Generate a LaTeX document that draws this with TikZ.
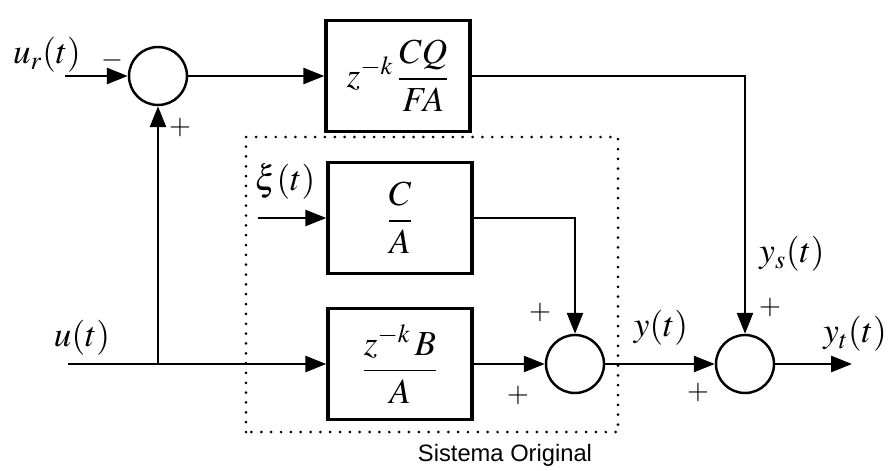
\documentclass[tikz,border=0pt]{standalone}
\usepackage{amsmath}
\usepackage{mathptmx}
\usepackage[no-math]{fontspec}
\newfontfamily\arialfont{Liberation Sans}
\usetikzlibrary{arrows.meta, calc}

\begin{document}
\begin{tikzpicture}[>={Triangle[length=4.2mm, width=3.2mm]},
  bloco/.style={draw, line width=1.9pt, minimum width=2.88cm, minimum height=2.22cm, font=\fontsize{20}{24}\selectfont},
  soma/.style={draw, circle, line width=1.4pt, minimum size=1.16cm, inner sep=0pt},
  liga/.style={line width=1.5pt},
  sinal/.style={font=\fontsize{16}{18}\selectfont},
  rotulo/.style={font=\fontsize{20}{24}\selectfont}]
  \useasboundingbox (0,0) rectangle (17.84,9.4);

  \node[soma] (sumr) at (3.16, 7.88) {};
  \node[bloco] (filtro) at (7.96, 7.88) {$z^{-k}\,\dfrac{CQ}{FA}$};
  \node[bloco] (ruido) at (8.0, 5.04) {$\dfrac{C}{A}$};
  \node[bloco] (planta) at (8.0, 2.12) {$\dfrac{z^{-k}\,B}{A}$};
  \node[soma] (sumy) at (11.5, 2.12) {};
  \node[soma] (sumt) at (14.9, 2.12) {};

  \coordinate (ur) at (1.3, 7.88);
  \coordinate (u) at (1.36, 2.12);
  \coordinate (ramo) at (3.16, 2.12);
  \coordinate (xi) at (5.16, 5.04);
  \coordinate (yt) at (17.04, 2.12);

  \draw[liga, ->] (ur) -- (sumr);
  \draw[liga, ->] (sumr) -- (filtro);
  \draw[liga, ->] (filtro.east) -| (sumt);
  \draw[liga, ->] (xi) -- (ruido);
  \draw[liga, ->] (ruido.east) -| (sumy);
  \draw[liga] (u) -- (ramo);
  \draw[liga, ->] (ramo) -- (planta);
  \draw[liga, ->] (ramo) -- (sumr);
  \draw[liga, ->] (planta) -- (sumy);
  \draw[liga, ->] (sumy) -- (sumt);
  \draw[liga, ->] (sumt) -- (yt);

  % sistema original
  \draw[line width=1.7pt, line cap=round, dash pattern=on 0pt off 5.6pt] (4.92, 0.76) rectangle (12.36, 6.66);
  \node[font=\arialfont\fontsize{13.5}{16}\selectfont] (sistema) at (10.1, 0.3) {Sistema Original};

  \node[rotulo] (lur) at (0.94, 8.3) {$u_r(t)$};
  \node[rotulo] (lu) at (1.64, 2.64) {$u(t)$};
  \node[rotulo] (lxi) at (5.7, 5.76) {$\xi(t)$};
  \node[rotulo] (ly) at (13.22, 2.84) {$y(t)$};
  \node[rotulo] (lys) at (15.84, 4.32) {$y_s(t)$};
  \node[rotulo] (lyt) at (17.1, 2.72) {$y_t(t)$};

  \node[sinal] (s1) at (2.24, 8.2) {$-$};
  \node[sinal] (s2) at (3.6, 6.86) {$+$};
  \node[sinal] (s3) at (10.8, 3.16) {$+$};
  \node[sinal] (s4) at (10.36, 1.5) {$+$};
  \node[sinal] (s5) at (13.96, 1.56) {$+$};
  \node[sinal] (s6) at (15.4, 3.26) {$+$};
\end{tikzpicture}
\end{document}
